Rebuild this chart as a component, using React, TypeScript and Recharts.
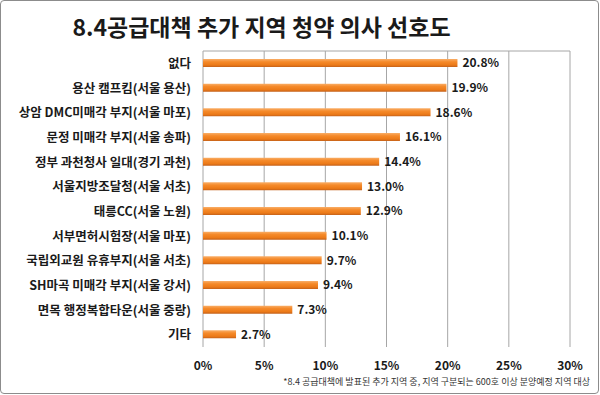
import { BarChart, Bar, XAxis, YAxis, CartesianGrid, LabelList } from "recharts";

const regions = [
  "없다",
  "용산 캠프킴(서울 용산)",
  "상암 DMC미매각 부지(서울 마포)",
  "문정 미매각 부지(서울 송파)",
  "정부 과천청사 일대(경기 과천)",
  "서울지방조달청(서울 서초)",
  "태릉CC(서울 노원)",
  "서부면허시험장(서울 마포)",
  "국립외교원 유휴부지(서울 서초)",
  "SH마곡 미매각 부지(서울 강서)",
  "면목 행정복합타운(서울 중랑)",
  "기타",
];
const shares = [20.8, 19.9, 18.6, 16.1, 14.4, 13.0, 12.9, 10.1, 9.7, 9.4, 7.3, 2.7];
const xTicks = [0, 5, 10, 15, 20, 25, 30];

const title = "8.4공급대책 추가 지역 청약 의사 선호도";
const footnote = "*8.4 공급대책에 발표된 추가 지역 중, 지역 구분되는 600호 이상 분양예정 지역 대상";

const font = "'Noto Sans CJK KR', 'Noto Sans', sans-serif";

const data = regions.map((name, i) => ({ name, value: shares[i] }));

function RegionTick(props: any) {
  const { x, y, payload } = props;
  return (
    <text
      x={x}
      y={y}
      dy="0.36em"
      textAnchor="end"
      fontSize={12.5}
      fontWeight={700}
      fill="#1a1a1a"
      fontFamily={font}
    >
      {payload.value}
    </text>
  );
}

export default function App() {
  return (
    <div
      style={{
        position: "absolute",
        left: 0,
        top: 0,
        width: 600,
        height: 395,
        background: "#fff",
        fontFamily: font,
      }}
    >
      <div
        style={{
          position: "absolute",
          left: 0,
          top: 0,
          width: 597,
          height: 392,
          border: "1.5px solid #8c8c8c",
          borderRadius: 4,
        }}
      />
      <div
        style={{
          position: "absolute",
          left: 0,
          width: 523,
          top: 11,
          textAlign: "center",
          fontSize: 23,
          fontWeight: 700,
          color: "#1a1a1a",
          lineHeight: "30px",
        }}
      >
        {title}
      </div>
      <div style={{ position: "absolute", left: 0, top: 0 }}>
        <BarChart
          width={600}
          height={395}
          layout="vertical"
          data={data}
          margin={{ top: 51, right: 30, bottom: 18, left: 0 }}
          barCategoryGap={0}
        >
          <defs>
            <linearGradient id="barFill" x1="0" y1="0" x2="0" y2="1">
              <stop offset="0%" stopColor="#f9ae68" />
              <stop offset="35%" stopColor="#f58a2a" />
              <stop offset="75%" stopColor="#ec7a18" />
              <stop offset="100%" stopColor="#c4611a" />
            </linearGradient>
          </defs>
          <CartesianGrid
            stroke="#a6a6a6"
            strokeWidth={1}
            horizontalPoints={[51]}
            vertical
          />
          <XAxis
            type="number"
            domain={[0, 30]}
            ticks={xTicks}
            tickFormatter={(v) => `${v}%`}
            axisLine={false}
            tickLine={false}
            tickSize={0}
            tickMargin={14}
            height={30}
            tick={{ fontSize: 12, fontWeight: 700, fill: "#1a1a1a", fontFamily: font }}
          />
          <YAxis
            type="category"
            dataKey="name"
            width={203}
            interval={0}
            axisLine={false}
            tickLine={false}
            tickSize={0}
            tickMargin={12}
            tick={<RegionTick />}
          />
          <Bar dataKey="value" fill="url(#barFill)" barSize={8} isAnimationActive={false}>
            <LabelList
              dataKey="value"
              position="right"
              offset={5}
              formatter={(v: number) => `${v.toFixed(1)}%`}
              style={{ fontSize: 12, fontWeight: 700, fill: "#1a1a1a", fontFamily: font }}
            />
          </Bar>
        </BarChart>
      </div>
      <div
        style={{
          position: "absolute",
          right: 10,
          top: 375,
          fontSize: 9,
          color: "#333",
          whiteSpace: "nowrap",
          lineHeight: "14px",
        }}
      >
        {footnote}
      </div>
    </div>
  );
}
